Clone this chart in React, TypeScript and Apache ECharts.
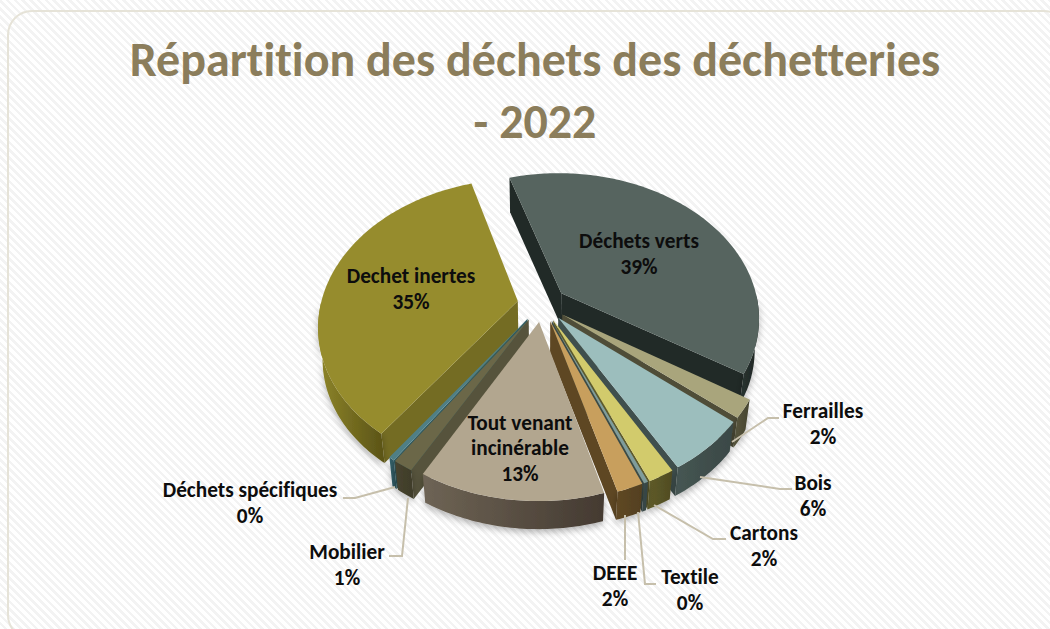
import React, { useEffect, useRef } from "react";
import * as echarts from "echarts";

const categories = ["Déchets verts", "Ferrailles", "Bois", "Cartons", "Textile", "DEEE", "Tout venant incinérable", "Mobilier", "Déchets spécifiques", "Dechet inertes"];
const shares = [38.6, 2.0, 5.8, 1.8, 0.3, 1.8, 12.6, 1.4, 0.4, 35.3];
const titleLines = ["Répartition des déchets des déchetteries", "- 2022"];

const topColors = ["#56645F", "#A9A57C", "#9CBEBD", "#D2CB6C", "#7F9C9C", "#C89F5D", "#B2A68F", "#6B6748", "#4F7F86", "#968C2D"];
const radialColors = ["#212A27", "#4F4D38", "#3F4F4D", "#5E5A2A", "#3A4A48", "#5E4723", "#4A4035", "#56533C", "#2F5A60", "#746C23"];
const outerFrom = ["#2A3431", "#5A583F", "#465653", "#615D2A", "#3F5050", "#5F4825", "#6E6455", "#47442F", "#33606A", "#8E8529"];
const outerTo = ["#1D2523", "#45432F", "#3A4846", "#4F4B22", "#354443", "#54401F", "#443A31", "#3F3C29", "#2B5056", "#5A5317"];

// Projection of the tilted, exploded pie
const CX = 542, CY = 304, RX = 197, RY = 143, PERSP = 0.164, DEPTH = 32, BOTTOM_SCALE = 0.98, EXPLODE = 0.125;
const FIRST_ANGLE = 343;

// Label layout: anchor of the text and leader line, by category index
const labelLayout: Record<number, { x: number; y: number; lines: string[]; leader?: number[][] }> = {
  0: { x: 639, y: 254, lines: ["Déchets verts"] },
  1: { x: 823, y: 424, lines: ["Ferrailles"], leader: [[732, 442], [768, 418], [779, 418]] },
  2: { x: 813, y: 496, lines: ["Bois"], leader: [[700, 477], [780, 489], [792, 489]] },
  3: { x: 764, y: 546, lines: ["Cartons"], leader: [[654, 505], [713, 539], [726, 539]] },
  4: { x: 690, y: 590, lines: ["Textile"], leader: [[638, 512], [645, 584], [656, 584]] },
  5: { x: 615, y: 586, lines: ["DEEE"], leader: [[625, 515], [625, 560]] },
  6: { x: 520, y: 448, lines: ["Tout venant", "incinérable"] },
  7: { x: 347, y: 565, lines: ["Mobilier"], leader: [[408, 498], [402, 556], [389, 556]] },
  8: { x: 250, y: 503, lines: ["Déchets spécifiques"], leader: [[395, 487], [355, 498], [343, 498]] },
  9: { x: 411, y: 289, lines: ["Dechet inertes"] },
};

const total = shares.reduce((a, b) => a + b, 0);
const spans: { from: number; to: number }[] = [];
{
  let a = FIRST_ANGLE;
  shares.forEach((s) => {
    const to = a + (s / total) * 360;
    spans.push({ from: a, to });
    a = to;
  });
}

const dir = (deg: number) => {
  const r = (deg * Math.PI) / 180;
  return [Math.sin(r), -Math.cos(r)];
};
const project = (u: number, v: number, bottom: boolean) => {
  const s = (1 / (1 - PERSP * v)) * (bottom ? BOTTOM_SCALE : 1);
  return [CX + RX * u * s, CY + RY * v * s + (bottom ? DEPTH : 0)];
};

// Back slices are painted first
const paintRank: number[] = (() => {
  const order = spans
    .map((sp, i) => ({ i, v: dir((sp.from + sp.to) / 2)[1] }))
    .sort((a, b) => a.v - b.v);
  const rank: number[] = [];
  order.forEach((o, r) => (rank[o.i] = r));
  return rank;
})();

function renderSlice(params: any) {
  const i = params.dataIndex;
  const { from, to } = spans[i];
  const mid = dir((from + to) / 2);
  const ax = mid[0] * EXPLODE, ay = mid[1] * EXPLODE;
  const arc: number[][] = [];
  const steps = Math.max(2, Math.ceil(to - from));
  for (let k = 0; k <= steps; k++) {
    const d = dir(from + ((to - from) * k) / steps);
    arc.push([ax + d[0], ay + d[1]]);
  }
  const base = paintRank[i] * 10 + 1;
  const children: any[] = [];
  const quad = (a: number[], b: number[]) => [
    project(a[0], a[1], false),
    project(b[0], b[1], false),
    project(b[0], b[1], true),
    project(a[0], a[1], true),
  ];
  const apex = [ax, ay];
  const start = arc[0];
  const end = arc[arc.length - 1];
  const startNormal = dir(from - 90)[1];
  const endNormal = dir(to + 90)[1];
  if (startNormal > 0) {
    children.push({ type: "polygon", z2: base, shape: { points: quad(apex, start) }, style: { fill: radialColors[i] } });
  }
  if (endNormal > 0) {
    children.push({ type: "polygon", z2: base, shape: { points: quad(apex, end) }, style: { fill: radialColors[i] } });
  }
  const front = arc.filter((p) => p[1] - ay > 0);
  if (front.length > 1) {
    const tops = front.map((p) => project(p[0], p[1], false));
    const bottoms = front.map((p) => project(p[0], p[1], true)).reverse();
    children.push({
      type: "polygon",
      z2: base + 1,
      shape: { points: tops.concat(bottoms) },
      style: {
        fill: {
          type: "linear", x: 0, y: 0, x2: 1, y2: 0,
          colorStops: [
            { offset: 0, color: outerFrom[i] },
            { offset: 1, color: outerTo[i] },
          ],
        },
        shadowBlur: 7,
        shadowColor: "rgba(0,0,0,0.30)",
        shadowOffsetY: 3,
      },
    });
  }
  const face = [project(apex[0], apex[1], false)].concat(arc.map((p) => project(p[0], p[1], false)));
  children.push({ type: "polygon", z2: base + 2, shape: { points: face }, style: { fill: topColors[i] } });

  const lay = labelLayout[i];
  if (lay.leader) {
    children.push({
      type: "polyline",
      z2: 200,
      shape: { points: lay.leader },
      style: { stroke: "#C6BFAB", lineWidth: 2, fill: "none" },
    });
  }
  children.push({
    type: "text",
    z2: 300,
    x: lay.x,
    y: lay.y,
    style: {
      text: lay.lines.concat(`${Math.round(shares[i])}%`).join("\n"),
      fontFamily: "Carlito, Lato, sans-serif",
      fontWeight: "bold",
      fontSize: 21.3,
      lineHeight: 25.5,
      fill: "#0D0D0D",
      align: "center",
      verticalAlign: "middle",
    },
  });
  return { type: "group", children };
}

export default function App() {
  const ref = useRef<HTMLDivElement>(null);
  useEffect(() => {
    document.body.style.margin = "0";
    const chart = echarts.init(ref.current!, undefined, { renderer: "svg" });
    chart.setOption({
      animation: false,
      title: {
        text: titleLines.join("\n"),
        left: 530,
        top: 23,
        textAlign: "center",
        textStyle: {
          fontFamily: "Carlito, Lato, sans-serif",
          fontSize: 48,
          fontWeight: "bold",
          color: "#8B7D5B",
          lineHeight: 62,
        },
      },
      graphic: [
        {
          type: "rect",
          z: -1,
          shape: { x: 8, y: 11, width: 1060, height: 628, r: 24 },
          style: { fill: "transparent", stroke: "#E6E3D8", lineWidth: 2 },
        },
      ],
      series: [
        {
          type: "custom",
          coordinateSystem: "none",
          name: "Répartition",
          clip: false,
          renderItem: renderSlice,
          data: categories.map((name, i) => ({ name, value: shares[i] })),
        },
      ],
    });
    return () => chart.dispose();
  }, []);
  return (
    <div
      ref={ref}
      style={{
        position: "absolute",
        left: 0,
        top: 0,
        width: 1050,
        height: 629,
        fontVariantLigatures: "none",
        background: "repeating-linear-gradient(45deg, #ffffff 0 3px, #f3f3f3 3px 5.5px)",
      }}
    />
  );
}
